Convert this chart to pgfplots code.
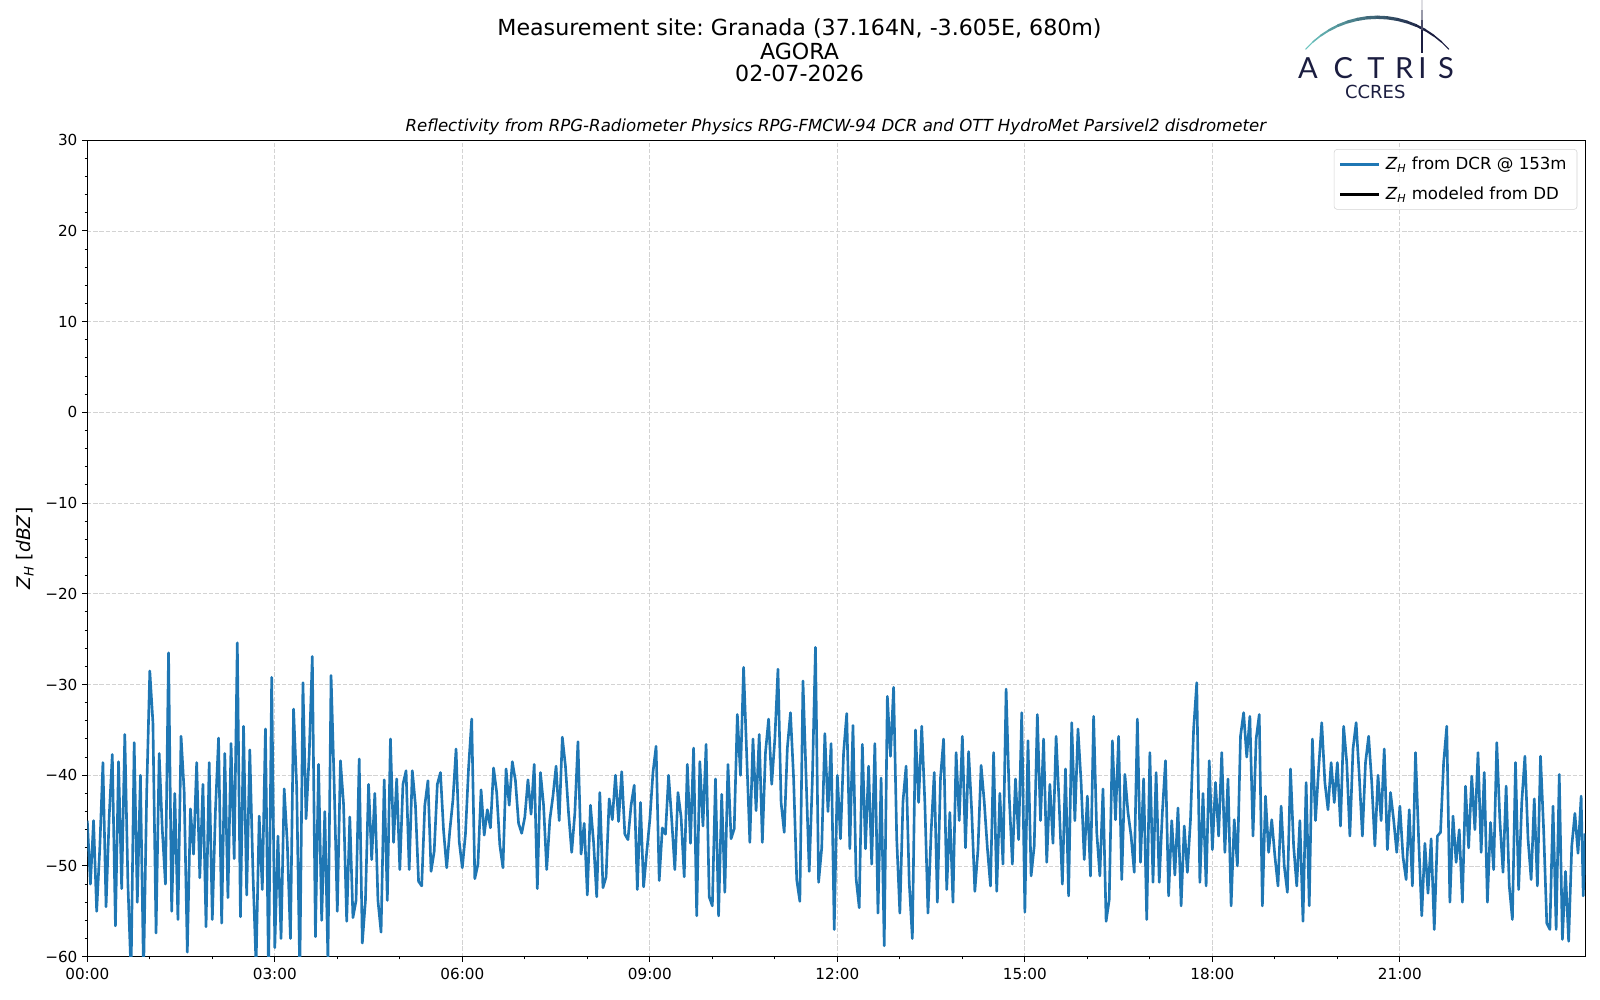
\documentclass[border=0pt]{standalone}
\usepackage{fontspec}
\setmainfont{DejaVu Sans}
\newfontfamily\logofont{Lato}
\usepackage{pgfplots}
\pgfplotsset{compat=1.18}
\frenchspacing
\definecolor{tabblue}{HTML}{1F77B4}
\definecolor{navy}{HTML}{1B1D40}
\definecolor{tealA}{HTML}{6CC4BF}
\definecolor{gridgray}{HTML}{D3D3D3}
\begin{document}
\begin{tikzpicture}
\path[use as bounding box] (0,0) rectangle (16in,10in);
\begin{axis}[
  at={(0.873in,0.433in)}, anchor=south west,
  scale only axis, width=14.98in, height=8.165in,
  xmin=0, xmax=1438, ymin=-60, ymax=30,
  xtick={0,180,...,1260},
  xticklabels={00:00,03:00,06:00,09:00,12:00,15:00,18:00,21:00},
  minor x tick num=2,
  ytick={-60,-50,...,30},
  yticklabels={−60,−50,−40,−30,−20,−10,0,10,20,30},
  minor y tick num=4,
  tick pos=left,
  tick align=outside,
  major tick length=3.6pt,
  minor tick length=2pt,
  every tick/.style={black, line width=0.7pt},
  ticklabel style={font=\fontsize{11}{13}\selectfont},
  xticklabel style={yshift=-1.5pt},
  axis line style={line width=0.9pt},
  grid=major,
  major grid style={gridgray, dash pattern=on 3pt off 1.4pt, line width=0.6pt},
  legend cell align=left,
  legend style={at={(1,1)}, anchor=north east, xshift=-5.8pt, yshift=-6.5pt,
    draw=gridgray, rounded corners=2pt, fill=white, fill opacity=0.8, text opacity=1,
    font=\fontsize{12}{14}\selectfont, inner sep=3.5pt, row sep=7pt,
    nodes={inner xsep=4pt}},
  legend image code/.code={\draw[#1] (0cm,0cm) -- (0.98cm,0cm);},
]
\addplot[tabblue, line width=1.9pt, line join=round] coordinates {
(0,-45) (3,-52) (6,-45) (9,-55) (12,-48) (15,-38.6) (18,-54.5) (21,-44.6) (24,-37.7) (27,-56.6)
(30,-38.5) (33,-52.5) (36,-35.5) (39,-52) (42,-62) (45,-36.4) (48,-54) (51,-40) (54,-62) (57,-42)
(60,-28.5) (63,-34.2) (66,-57.4) (69,-37.6) (72,-46) (75,-52) (78,-26.5) (81,-55) (84,-42) (87,-55.9)
(90,-35.7) (93,-41.8) (96,-59.5) (99,-43.7) (102,-48.7) (105,-38.6) (108,-51.3) (111,-41) (114,-56.7) (117,-38.6)
(120,-55.9) (123,-43.9) (126,-35.9) (129,-56.3) (132,-37.6) (135,-53.5) (138,-36.5) (141,-49.2) (144,-25.4) (147,-55.6)
(150,-34.6) (153,-53.2) (156,-37.2) (159,-50.7) (162,-61) (165,-44.5) (168,-52.6) (171,-34.9) (174,-62) (177,-29.2)
(180,-59) (183,-46.7) (186,-58) (189,-41.5) (192,-47.5) (195,-58) (198,-32.7) (201,-41.3) (204,-62) (207,-29.8)
(210,-44.8) (213,-37.8) (216,-26.9) (219,-57.8) (222,-38.8) (225,-56) (228,-44) (231,-60.5) (234,-29) (237,-41)
(240,-55) (243,-38.4) (246,-43.2) (249,-56.1) (252,-44.6) (255,-55.7) (258,-53.8) (261,-38.2) (264,-58.5) (267,-53.8)
(270,-41) (273,-49.3) (276,-42) (279,-53.8) (282,-57.3) (285,-40.5) (288,-53.8) (291,-36) (294,-47.4) (297,-40.4)
(300,-50.4) (303,-41) (306,-39.5) (309,-50.4) (312,-39.5) (315,-43.3) (318,-51.7) (321,-52.2) (324,-43.3) (327,-40.6)
(330,-50.6) (333,-48.4) (336,-41) (339,-39.7) (342,-46.1) (345,-50.2) (348,-46.1) (351,-42.7) (354,-37.1) (357,-47.3)
(360,-50.2) (363,-46.5) (366,-39.2) (369,-33.8) (372,-51.4) (375,-49.8) (378,-41.6) (381,-46.6) (384,-43.8) (387,-45.8)
(390,-39.2) (393,-41.9) (396,-47.7) (399,-50.2) (402,-39.3) (405,-43.3) (408,-38.5) (411,-40.6) (414,-45.3) (417,-46.4)
(420,-44.6) (423,-40.5) (426,-44.3) (429,-38.8) (432,-52.5) (435,-39.7) (438,-43.3) (441,-50.4) (444,-44.9) (447,-42.3)
(450,-39) (453,-45) (456,-35.8) (459,-39) (462,-44.2) (465,-48.5) (468,-44.2) (471,-36.3) (474,-48.7) (477,-45.3)
(480,-53.2) (483,-43.3) (486,-47.4) (489,-53.4) (492,-41.9) (495,-52.4) (498,-51.2) (501,-42.6) (504,-44.9) (507,-40)
(510,-45.1) (513,-39.6) (516,-46.5) (519,-47.1) (522,-43.3) (525,-41.1) (528,-52.6) (531,-43) (534,-52.3) (537,-48.5)
(540,-44.9) (543,-39.7) (546,-36.8) (549,-51.6) (552,-45.8) (555,-46.5) (558,-40) (561,-44.9) (564,-50.4) (567,-41.9)
(570,-44.6) (573,-51.2) (576,-38.8) (579,-47.5) (582,-37) (585,-55.5) (588,-38.5) (591,-45.6) (594,-36.6) (597,-53.4)
(600,-54.4) (603,-40.4) (606,-55.5) (609,-42.1) (612,-52.9) (615,-38.8) (618,-47) (621,-45.9) (624,-33.3) (627,-40)
(630,-28.1) (633,-37.8) (636,-47.4) (639,-36) (642,-43.9) (645,-35.5) (648,-47.4) (651,-37.5) (654,-33.8) (657,-41)
(660,-36) (663,-28.3) (666,-43) (669,-46.3) (672,-37) (675,-33.1) (678,-40.3) (681,-51.5) (684,-53.9) (687,-29.6)
(690,-40.2) (693,-50.6) (696,-40.6) (699,-25.9) (702,-51.8) (705,-48) (708,-35.4) (711,-44) (714,-36.5) (717,-57)
(720,-40) (723,-47) (726,-37.5) (729,-33.2) (732,-48.1) (735,-34.5) (738,-51.4) (741,-54.6) (744,-36.6) (747,-48.1)
(750,-39) (753,-49.8) (756,-36.5) (759,-55.2) (762,-40.3) (765,-58.8) (768,-31.3) (771,-37.9) (774,-30.3) (777,-47)
(780,-55.2) (783,-42.9) (786,-39) (789,-51.8) (792,-58) (795,-35) (798,-43) (801,-34.6) (804,-43) (807,-55.2)
(810,-46.3) (813,-39.7) (816,-54) (819,-40.3) (822,-36) (825,-52.6) (828,-44.1) (831,-54) (834,-37.5) (837,-45)
(840,-35.7) (843,-48) (846,-37.4) (849,-44) (852,-52.8) (855,-48.2) (858,-38.9) (861,-42.9) (864,-48) (867,-52.2)
(870,-37.5) (873,-52.8) (876,-42) (879,-49.8) (882,-30.5) (885,-42.3) (888,-49.8) (891,-40.4) (894,-47.1) (897,-33.1)
(900,-55.1) (903,-36.2) (906,-51.1) (909,-47.8) (912,-33.3) (915,-45) (918,-36) (921,-49.6) (924,-41) (927,-47.5)
(930,-35.7) (933,-43.4) (936,-52) (939,-39.3) (942,-53.3) (945,-34.2) (948,-45) (951,-34.9) (954,-40.8) (957,-49.3)
(960,-42.3) (963,-51.1) (966,-33.5) (969,-46.3) (972,-51.1) (975,-41.5) (978,-56.1) (981,-53.7) (984,-36.2) (987,-44.9)
(990,-35.7) (993,-51.5) (996,-39.9) (999,-44.1) (1002,-46.7) (1005,-50.7) (1008,-33.8) (1011,-49.6) (1014,-40.4) (1017,-55.9)
(1020,-37.5) (1023,-51.8) (1026,-39.7) (1029,-51.8) (1032,-44.1) (1035,-38.4) (1038,-53.3) (1041,-45) (1044,-51) (1047,-43.6)
(1050,-54.4) (1053,-45.6) (1056,-50.7) (1059,-44.9) (1062,-34.9) (1065,-29.8) (1068,-51.8) (1071,-42) (1074,-52.2) (1077,-38.4)
(1080,-48.2) (1083,-40.8) (1086,-46.7) (1089,-37.5) (1092,-48.5) (1095,-40.4) (1098,-54.4) (1101,-44.9) (1104,-50) (1107,-35.7)
(1110,-33.1) (1113,-38) (1116,-33.5) (1119,-46.7) (1122,-36) (1125,-33.3) (1128,-54.4) (1131,-42.3) (1134,-48.5) (1137,-44.9)
(1140,-48.9) (1143,-52.2) (1146,-43.4) (1149,-50) (1152,-52.9) (1155,-39.3) (1158,-47.8) (1161,-52.2) (1164,-45) (1167,-56.1)
(1170,-40.8) (1173,-54.4) (1176,-36) (1179,-45) (1182,-39.3) (1185,-34.2) (1188,-40.8) (1191,-43.8) (1194,-38.6) (1197,-43)
(1200,-38.6) (1203,-45.6) (1206,-34.6) (1209,-38.6) (1212,-46.7) (1215,-37.1) (1218,-34.2) (1221,-40) (1224,-46.7) (1227,-38.6)
(1230,-35.7) (1233,-40.8) (1236,-47.8) (1239,-40) (1242,-45) (1245,-37.1) (1248,-48.2) (1251,-41.9) (1254,-44.9) (1257,-48.5)
(1260,-43.4) (1263,-49) (1266,-51.5) (1269,-43.8) (1272,-52.2) (1275,-37.5) (1278,-47) (1281,-55.5) (1284,-47.5) (1287,-53)
(1290,-47) (1293,-57) (1296,-46.7) (1299,-46.3) (1302,-38.6) (1305,-34.6) (1308,-54) (1311,-44.5) (1314,-49.6) (1317,-46)
(1320,-54) (1323,-41.2) (1326,-48) (1329,-40.1) (1332,-46) (1335,-37.5) (1338,-48.5) (1341,-39.7) (1344,-54) (1347,-45.2)
(1350,-50.4) (1353,-36.4) (1356,-45) (1359,-50.7) (1362,-41.2) (1365,-52.2) (1368,-55.9) (1371,-38.6) (1374,-52.6) (1377,-43)
(1380,-37.9) (1383,-47) (1386,-51.5) (1389,-42.6) (1392,-52.2) (1395,-37.9) (1398,-46) (1401,-56.3) (1404,-57) (1407,-43.4)
(1410,-57) (1413,-39.9) (1416,-58.1) (1419,-50.6) (1422,-58.3) (1425,-47.8) (1428,-44.2) (1431,-48.6) (1434,-42.3) (1436,-53.3)
(1438,-46.4)
};
\addlegendentry{\textit{Z}\textsubscript{\textit{H}} from DCR @ 153m}
\addlegendimage{black, line width=1.9pt}
\addlegendentry{\textit{Z}\textsubscript{\textit{H}} modeled from DD}
\end{axis}
\begin{scope}[x=0.01in, y=-0.01in, shift={(0in,10in)}]
\node[anchor=base, font=\fontsize{16}{19}\selectfont, inner sep=0pt] at (800,36) {Measurement site: Granada (37.164N, -3.605E, 680m)};
\node[anchor=base, font=\fontsize{16}{19}\selectfont, inner sep=0pt] at (800,59.3) {AGORA};
\node[anchor=base, font=\fontsize{16}{19}\selectfont, inner sep=0pt] at (800,81.7) {02-07-2026};
\node[anchor=base, font=\fontsize{12}{15}\selectfont\itshape, inner sep=0pt] at (836.3,131.7) {Reflectivity from RPG-Radiometer Physics RPG-FMCW-94 DCR and OTT HydroMet Parsivel2 disdrometer};
\node[rotate=90, font=\fontsize{13.5}{16}\selectfont, inner sep=0pt] at (25,549) {\textit{Z}\textsubscript{\textit{H}} [\textit{dBZ}]};
% logo arc
\draw[line width=0.78pt, line cap=round, tealA] (1306.4,49.2) -- (1313.6,42.0);
\draw[line width=1.12pt, line cap=round, navy!8!tealA] (1313.6,42.0) -- (1321.4,35.7);
\draw[line width=1.45pt, line cap=round, navy!16!tealA] (1321.4,35.7) -- (1329.9,30.2);
\draw[line width=1.74pt, line cap=round, navy!24!tealA] (1329.9,30.2) -- (1338.8,25.6);
\draw[line width=1.99pt, line cap=round, navy!32!tealA] (1338.8,25.6) -- (1348.2,22.0);
\draw[line width=2.19pt, line cap=round, navy!40!tealA] (1348.2,22.0) -- (1358.0,19.4);
\draw[line width=2.32pt, line cap=round, navy!48!tealA] (1358.0,19.4) -- (1367.9,17.8);
\draw[line width=2.39pt, line cap=round, navy!56!tealA] (1367.9,17.8) -- (1378,17.3);
\draw[line width=2.39pt, line cap=round, navy!64!tealA] (1378,17.3) -- (1388.1,17.8);
\draw[line width=2.32pt, line cap=round, navy!72!tealA] (1388.1,17.8) -- (1398.0,19.4);
\draw[line width=2.19pt, line cap=round, navy!80!tealA] (1398.0,19.4) -- (1407.8,22.0);
\draw[line width=1.99pt, line cap=round, navy!88!tealA] (1407.8,22.0) -- (1417.2,25.6);
\draw[line width=1.74pt, line cap=round, navy!96!tealA] (1417.2,25.6) -- (1426.2,30.2);
\draw[line width=1.45pt, line cap=round, navy] (1426.2,30.2) -- (1434.6,35.7);
\draw[line width=1.12pt, line cap=round, navy] (1434.6,35.7) -- (1442.4,42.0);
\draw[line width=0.78pt, line cap=round, navy] (1442.4,42.0) -- (1449.6,49.2);
% vertical stroke
\draw[line width=1.4pt, navy!15] (1423.2,0) -- (1423.2,10);
\draw[line width=1.4pt, navy!45] (1423.2,10) -- (1423.2,20);
\draw[line width=1.4pt, navy!80] (1423.2,20) -- (1423.2,30);
\draw[line width=1.4pt, navy] (1423.2,30) -- (1423.2,53);
% letters
\node[anchor=base, font=\logofont\fontsize{21}{21}\selectfont, text=navy, inner sep=0pt] at (1308.7,78.3) {A};
\node[anchor=base, font=\logofont\fontsize{21}{21}\selectfont, text=navy, inner sep=0pt] at (1344,78.3) {C};
\node[anchor=base, font=\logofont\fontsize{21}{21}\selectfont, text=navy, inner sep=0pt] at (1376.7,78.3) {T};
\node[anchor=base, font=\logofont\fontsize{21}{21}\selectfont, text=navy, inner sep=0pt] at (1405,78.3) {R};
\node[anchor=base, font=\logofont\fontsize{21}{21}\selectfont, text=navy, inner sep=0pt] at (1423.3,78.3) {I};
\node[anchor=base, font=\logofont\fontsize{21}{21}\selectfont, text=navy, inner sep=0pt] at (1446.7,78.3) {S};
\node[anchor=base, font=\fontsize{13}{13}\selectfont, text=navy, inner sep=0pt] at (1376,99) {CCRES};
\end{scope}
\end{tikzpicture}
\end{document}
